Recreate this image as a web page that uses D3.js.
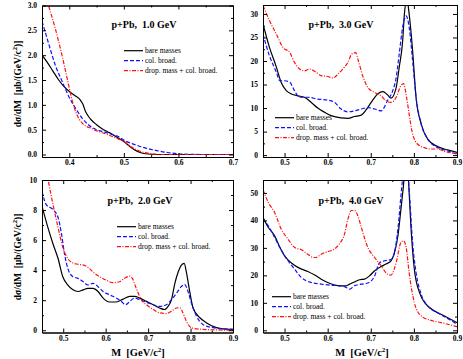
<!DOCTYPE html>
<html>
<head>
<meta charset="utf-8">
<script src="https://cdn.jsdelivr.net/npm/d3@7"></script>
<style>
  body { margin: 0; background: #fff; }
  text { font-family: "Liberation Serif", "Times New Roman", serif; fill: #000; }
  .tick text { font-size: 7.5px; font-weight: bold; }
  .title { font-size: 10px; font-weight: bold; }
  .legend { font-size: 7.5px; }
  .label { font-size: 9.5px; font-weight: bold; }
</style>
</head>
<body>
<svg id="chart" width="463" height="359"></svg>
<script>
// chart values
const titles = ['p+Pb,  1.0 GeV', 'p+Pb,  3.0 GeV', 'p+Pb,  2.0 GeV', 'p+Pb,  4.0 GeV'];
const seriesNames = ['bare masses', 'col. broad.', 'drop. mass + col. broad.'];

const xTicks1 = [0.4, 0.5, 0.6, 0.7];
const xMinor1 = [0.45, 0.55, 0.65];
const xTicks = [0.5, 0.6, 0.7, 0.8, 0.9];
const xMinor = [0.55, 0.65, 0.75, 0.85];

const yTicks1 = [0, 0.5, 1.0, 1.5, 2.0, 2.5, 3.0];
const yMinor1 = [0.25, 0.75, 1.25, 1.75, 2.25, 2.75];
const yTicks3GeV = [0, 5, 10, 15, 20, 25, 30];
const yMinor3GeV = [2.5, 7.5, 12.5, 17.5, 22.5, 27.5];
const yTicks2GeV = [0, 2, 4, 6, 8, 10];
const yMinor2GeV = [1, 3, 5, 7, 9];
const yTicks4GeV = [0, 10, 20, 30, 40, 50];
const yMinor4GeV = [5, 15, 25, 35, 45];

// p+Pb 1.0 GeV  [M, dsigma/dM]
const bare1 = [[0.35,2.0],[0.36,1.85],[0.37,1.68],[0.38,1.51],[0.39,1.37],[0.40,1.27],[0.41,1.19],[0.42,1.1],[0.425,1.01],[0.43,0.86],[0.435,0.77],[0.44,0.7],[0.45,0.6],[0.46,0.52],[0.47,0.46],[0.48,0.4],[0.49,0.33],[0.50,0.26],[0.51,0.17],[0.52,0.09],[0.53,0.04],[0.54,0.015],[0.55,0.005],[0.57,0],[0.7,0]];
const broad1 = [[0.35,2.68],[0.355,2.5],[0.362,2.24],[0.374,1.81],[0.387,1.47],[0.399,1.17],[0.411,0.94],[0.423,0.74],[0.435,0.6],[0.45,0.5],[0.465,0.45],[0.48,0.4],[0.49,0.36],[0.50,0.29],[0.52,0.2],[0.54,0.13],[0.56,0.08],[0.58,0.04],[0.60,0.015],[0.62,0.005],[0.65,0],[0.7,0]];
const drop1 = [[0.35,3.45],[0.362,3.0],[0.374,2.55],[0.387,1.98],[0.396,1.54],[0.405,1.1],[0.414,0.8],[0.423,0.64],[0.441,0.52],[0.468,0.41],[0.493,0.3],[0.50,0.27],[0.511,0.17],[0.529,0.07],[0.548,0.02],[0.566,0],[0.7,0]];

// p+Pb 3.0 GeV
const bare3 = [[0.45,27.9],[0.465,22.9],[0.481,18.7],[0.492,15.5],[0.504,13.7],[0.516,13.0],[0.531,12.6],[0.546,12.3],[0.562,11.2],[0.577,10.0],[0.593,9.1],[0.608,8.4],[0.631,7.9],[0.647,7.8],[0.662,8.2],[0.678,8.5],[0.689,9.6],[0.701,11.2],[0.716,13.0],[0.728,13.5],[0.739,12.8],[0.747,12.1],[0.759,14.4],[0.766,18.7],[0.774,24.3],[0.778,30.0],[0.784,33.0],[0.789,30.0],[0.797,22.2],[0.805,12.3],[0.817,6.6],[0.832,3.4],[0.855,1.8],[0.878,1.1],[0.9,0.6]];
const broad3 = [[0.45,25.7],[0.465,21.1],[0.481,17.6],[0.489,15.8],[0.50,15.8],[0.512,15.5],[0.523,13.7],[0.535,12.3],[0.554,12.3],[0.577,11.9],[0.60,11.7],[0.616,11.2],[0.631,9.8],[0.647,9.2],[0.662,9.4],[0.678,9.8],[0.693,10.1],[0.709,9.8],[0.724,9.4],[0.739,11.6],[0.751,13.7],[0.759,16.5],[0.766,21.5],[0.774,27.2],[0.782,29.6],[0.789,27.2],[0.797,20.1],[0.805,12.3],[0.817,6.6],[0.832,3.4],[0.855,1.6],[0.878,0.9],[0.9,0.2]];
const drop3 = [[0.45,31.8],[0.465,28.6],[0.481,25.7],[0.496,22.9],[0.512,21.8],[0.523,19.7],[0.535,18.3],[0.546,17.9],[0.558,18.3],[0.57,17.8],[0.585,16.9],[0.60,16.7],[0.612,16.4],[0.624,17.2],[0.635,18.3],[0.647,19.7],[0.656,21.5],[0.665,21.8],[0.671,20.1],[0.681,16.9],[0.693,14.4],[0.709,13.3],[0.724,12.6],[0.735,11.6],[0.747,11.2],[0.759,12.3],[0.77,14.8],[0.776,15.2],[0.783,12.3],[0.789,8.7],[0.797,4.5],[0.809,2.3],[0.824,1.6],[0.84,1.3],[0.855,1.3],[0.87,0.8],[0.9,0.35]];

// p+Pb 2.0 GeV
const bare2 = [[0.45,8.25],[0.464,6.83],[0.476,5.74],[0.488,4.76],[0.499,3.56],[0.511,3.01],[0.523,2.69],[0.535,2.58],[0.547,2.69],[0.558,2.79],[0.57,2.79],[0.582,2.58],[0.594,2.14],[0.609,1.88],[0.625,1.88],[0.641,2.07],[0.657,2.25],[0.668,2.25],[0.68,2.14],[0.696,1.92],[0.712,1.7],[0.727,1.48],[0.739,1.38],[0.747,1.59],[0.755,2.03],[0.763,3.12],[0.771,3.89],[0.778,4.32],[0.785,4.45],[0.79,3.89],[0.798,2.58],[0.806,1.48],[0.822,0.83],[0.837,0.5],[0.861,0.17],[0.884,0.07],[0.9,0.04]];
const broad2 = [[0.45,9.24],[0.46,8.36],[0.476,8.03],[0.488,7.49],[0.496,6.4],[0.503,5.09],[0.511,4.1],[0.523,3.56],[0.535,3.45],[0.547,3.23],[0.558,3.01],[0.57,3.12],[0.582,2.9],[0.594,2.58],[0.609,2.36],[0.625,2.14],[0.637,1.92],[0.647,1.7],[0.657,1.92],[0.668,2.14],[0.68,2.03],[0.696,1.86],[0.712,1.7],[0.727,1.59],[0.743,1.7],[0.755,2.03],[0.767,2.47],[0.778,2.9],[0.786,3.05],[0.794,2.58],[0.802,1.81],[0.814,0.94],[0.829,0.39],[0.853,0.17],[0.9,0.07]];
const drop2 = [[0.45,12.5],[0.466,9.78],[0.476,8.36],[0.488,6.83],[0.499,5.52],[0.511,4.76],[0.523,4.48],[0.535,4.39],[0.55,4.32],[0.562,4.1],[0.574,3.78],[0.586,3.56],[0.601,3.34],[0.617,3.17],[0.633,3.23],[0.644,3.45],[0.657,3.6],[0.663,3.45],[0.672,2.79],[0.684,2.03],[0.696,1.7],[0.712,1.38],[0.727,1.16],[0.743,1.11],[0.755,1.27],[0.767,1.48],[0.775,1.5],[0.782,1.16],[0.79,0.61],[0.802,0.17],[0.822,0.07],[0.9,0]];

// p+Pb 4.0 GeV
const bare4 = [[0.45,41.1],[0.462,37.5],[0.477,34.4],[0.489,30.2],[0.50,27.1],[0.516,24.5],[0.531,22.9],[0.554,21.4],[0.57,20.1],[0.585,18.6],[0.60,17.4],[0.616,16.5],[0.631,16.2],[0.643,16.2],[0.651,16.8],[0.662,17.6],[0.674,18.4],[0.685,18.6],[0.697,19.8],[0.709,21.7],[0.724,23.2],[0.735,24.1],[0.747,25.3],[0.755,28.3],[0.763,34.4],[0.77,44.2],[0.776,53.0],[0.782,64.0],[0.788,53.0],[0.793,38.1],[0.801,22.3],[0.813,13.7],[0.828,9.5],[0.847,7.1],[0.871,5.2],[0.9,2.8]];
const broad4 = [[0.45,40.5],[0.462,38.1],[0.477,33.8],[0.489,30.2],[0.504,26.2],[0.523,22.3],[0.539,19.2],[0.562,17.4],[0.585,16.8],[0.608,16.4],[0.631,16.2],[0.643,15.6],[0.651,15.0],[0.662,16.2],[0.678,16.8],[0.693,17.2],[0.709,19.8],[0.72,24.5],[0.732,25.3],[0.747,25.7],[0.755,28.3],[0.763,36.9],[0.77,49.0],[0.776,58.0],[0.781,62.0],[0.786,58.0],[0.79,49.0],[0.797,32.0],[0.805,21.0],[0.817,13.1],[0.832,8.9],[0.855,6.4],[0.878,4.3],[0.9,2.2]];
const drop4 = [[0.45,51.2],[0.462,46.6],[0.477,42.9],[0.492,36.9],[0.508,33.2],[0.523,30.2],[0.539,29.3],[0.554,27.7],[0.566,26.5],[0.573,26.5],[0.585,27.7],[0.60,28.6],[0.616,29.6],[0.627,31.4],[0.639,35.0],[0.647,40.5],[0.655,43.6],[0.662,43.6],[0.67,41.7],[0.678,37.5],[0.693,30.2],[0.709,26.5],[0.724,23.5],[0.739,20.4],[0.747,20.1],[0.759,24.7],[0.77,32.0],[0.776,32.6],[0.782,30.2],[0.789,21.0],[0.801,10.1],[0.817,5.2],[0.84,3.6],[0.863,2.8],[0.9,1.3]];

const svg = d3.select('#chart');

const colors = ['#000000', '#1010ff', '#ff1010'];
const dashes = [null, '4,2', '4,1.5,1,1.5'];

const panels = [
  {title: titles[0], xDom: [0.35, 0.7], yDom: [-0.05, 3], xMajor: xTicks1, xMinor: xMinor1,
   yMajor: yTicks1, yMinor: yMinor1, yFmt: d3.format('.1f'), series: [bare1, broad1, drop1],
   box: [42, 233, 5.5, 157], titleAt: [144, 24], legendAt: [124, 50.7]},
  {title: titles[1], xDom: [0.45, 0.9], yDom: [-0.4, 31.9], xMajor: xTicks, xMinor: xMinor,
   yMajor: yTicks3GeV, yMinor: yMinor3GeV, yFmt: d3.format('d'), series: [bare3, broad3, drop3],
   box: [263, 457, 5, 157], titleAt: [341, 24], legendAt: [275, 117.7]},
  {title: titles[2], xDom: [0.45, 0.9], yDom: [-0.15, 10], xMajor: xTicks, xMinor: xMinor,
   yMajor: yTicks2GeV, yMinor: yMinor2GeV, yFmt: d3.format('d'), series: [bare2, broad2, drop2],
   box: [42, 233, 180, 332.5], titleAt: [140, 200], legendAt: [117, 226.7]},
  {title: titles[3], xDom: [0.45, 0.9], yDom: [-0.8, 54.7], xMajor: xTicks, xMinor: xMinor,
   yMajor: yTicks4GeV, yMinor: yMinor4GeV, yFmt: d3.format('d'), series: [bare4, broad4, drop4],
   box: [263, 457, 180, 332.5], titleAt: [351, 200], legendAt: [272, 296.7]}
];

panels.forEach((p, i) => {
  const [l, r, t, b] = p.box;
  const xScale = d3.scaleLinear().domain(p.xDom).range([l, r]);
  const yScale = d3.scaleLinear().domain(p.yDom).range([b, t]);

  svg.append('clipPath')
     .attr('id', 'clip' + i)
     .append('rect')
     .attr('x', l).attr('y', t)
     .attr('width', r - l).attr('height', b - t);

  // curves
  const line = d3.line()
                 .x(d => xScale(d[0]))
                 .y(d => yScale(d[1]))
                 .curve(d3.curveMonotoneX);

  p.series.forEach((s, k) => {
    svg.append('path')
       .datum(s)
       .attr('clip-path', `url(#clip${i})`)
       .attr('d', line)
       .attr('fill', 'none')
       .attr('stroke', colors[k])
       .attr('stroke-width', 1.2)
       .attr('stroke-dasharray', dashes[k]);
  });

  // axes, ticks inward on all four sides
  const addAxis = (axis, tr) => {
    const g = svg.append('g').attr('transform', tr).call(axis);
    g.select('.domain').attr('stroke', '#000').attr('stroke-width', 1);
    g.selectAll('.tick line').attr('stroke', '#000');
    return g;
  };
  addAxis(d3.axisBottom(xScale).tickValues(p.xMajor).tickSize(-4).tickPadding(3)
            .tickFormat(d3.format('.1f')).tickSizeOuter(0), `translate(0,${b})`);
  addAxis(d3.axisBottom(xScale).tickValues(p.xMinor).tickSize(-2).tickFormat('').tickSizeOuter(0), `translate(0,${b})`);
  addAxis(d3.axisTop(xScale).tickValues(p.xMajor).tickSize(-4).tickFormat('').tickSizeOuter(0), `translate(0,${t})`);
  addAxis(d3.axisTop(xScale).tickValues(p.xMinor).tickSize(-2).tickFormat('').tickSizeOuter(0), `translate(0,${t})`);
  addAxis(d3.axisLeft(yScale).tickValues(p.yMajor).tickSize(-4).tickPadding(5)
            .tickFormat(p.yFmt).tickSizeOuter(0), `translate(${l},0)`);
  addAxis(d3.axisLeft(yScale).tickValues(p.yMinor).tickSize(-2).tickFormat('').tickSizeOuter(0), `translate(${l},0)`);
  addAxis(d3.axisRight(yScale).tickValues(p.yMajor).tickSize(-4).tickFormat('').tickSizeOuter(0), `translate(${r},0)`);
  addAxis(d3.axisRight(yScale).tickValues(p.yMinor).tickSize(-2).tickFormat('').tickSizeOuter(0), `translate(${r},0)`);

  svg.selectAll('.tick text').attr('font-family', null);

  // title
  svg.append('text')
     .attr('class', 'title')
     .attr('x', p.titleAt[0])
     .attr('y', p.titleAt[1])
     .attr('dy', '0.35em')
     .attr('text-anchor', 'middle')
     .style('white-space', 'pre')
     .text(p.title);

  // legend
  seriesNames.forEach((name, k) => {
    const ly = p.legendAt[1] + k * 10;
    svg.append('line')
       .attr('x1', p.legendAt[0]).attr('x2', p.legendAt[0] + 19)
       .attr('y1', ly).attr('y2', ly)
       .attr('stroke', colors[k])
       .attr('stroke-width', 1.2)
       .attr('stroke-dasharray', dashes[k]);
    svg.append('text')
       .attr('class', 'legend')
       .attr('x', p.legendAt[0] + 21)
       .attr('y', ly)
       .attr('dy', '0.35em')
       .text(name);
  });
});

// axis labels
[84, 257].forEach(cy => {
  const t = svg.append('text')
     .attr('class', 'label')
     .attr('transform', `translate(21, ${cy}) rotate(-90)`)
     .attr('text-anchor', 'middle')
     .style('white-space', 'pre');
  t.append('tspan').text('dσ/dM  [μb/(GeV/c');
  t.append('tspan').attr('dy', -4).style('font-size', '6.5px').text('2');
  t.append('tspan').attr('dy', 4).text(')]');
});

[138, 362].forEach(cx => {
  const t = svg.append('text')
     .attr('class', 'label')
     .style('font-size', '10.5px')
     .attr('x', cx)
     .attr('y', 356)
     .attr('text-anchor', 'middle')
     .style('white-space', 'pre');
  t.append('tspan').text('M  [GeV/c');
  t.append('tspan').attr('dy', -4).style('font-size', '7px').text('2');
  t.append('tspan').attr('dy', 4).text(']');
});
</script>
</body>
</html>
